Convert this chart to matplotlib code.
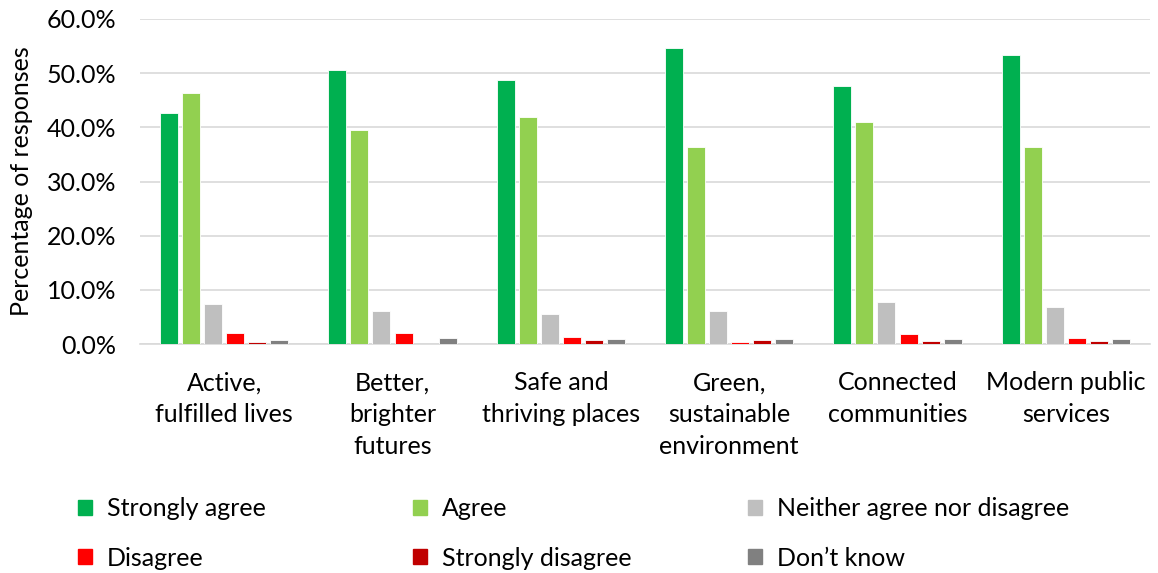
import matplotlib
matplotlib.use("Agg")
from matplotlib import pyplot as plt
from matplotlib.patches import Patch
import numpy as np

plt.rcParams['font.family'] = ['Lato', 'DejaVu Sans']

categories = ["Active,\nfulfilled lives", "Better,\nbrighter\nfutures", "Safe and\nthriving places",
              "Green,\nsustainable\nenvironment", "Connected\ncommunities", "Modern public\nservices"]
series = ["Strongly agree", "Agree", "Neither agree nor disagree", "Disagree", "Strongly disagree", "Don\u2019t know"]
colors = ["#00B050", "#92D050", "#BFBFBF", "#FF0000", "#C00000", "#808080"]

strongly_agree = [42.6, 50.6, 48.7, 54.7, 47.6, 53.4]
agree = [46.3, 39.5, 41.9, 36.4, 41.0, 36.4]
neither = [7.3, 6.1, 5.6, 6.1, 7.7, 6.8]
disagree = [2.0, 2.0, 1.3, 0.3, 1.8, 1.1]
strongly_disagree = [0.3, 0.0, 0.8, 0.8, 0.6, 0.6]
dont_know = [0.8, 1.2, 1.0, 1.0, 1.0, 1.0]
values = [strongly_agree, agree, neither, disagree, strongly_disagree, dont_know]

fs = 18

fig = plt.figure(figsize=(11.58, 5.73), dpi=100)
ax = fig.add_axes([140 / 1158, 1 - 344 / 573, 1010 / 1158, 325 / 573])

x = np.arange(len(categories))
pitch = 0.131
width = 0.107
for i, (vals, c) in enumerate(zip(values, colors)):
    ax.bar(x + (i - 2.5) * pitch, vals, width, color=c, edgecolor="white", linewidth=0.6, zorder=3)

ax.set_xlim(-0.5, len(categories) - 0.5)
ax.set_ylim(0, 60)
ax.set_yticks(np.arange(0, 61, 10))
ax.set_yticklabels([f"{v:.1f}%" for v in range(0, 61, 10)], fontsize=fs)
ax.set_xticks(x)
ax.set_xticklabels(categories, fontsize=fs, linespacing=1.47)
ax.tick_params(length=0)
ax.tick_params(axis="y", pad=17)
ax.tick_params(axis="x", pad=19.5)
ax.grid(axis="y", color="#D9D9D9", linewidth=1.2, zorder=0)
for s in ["top", "right", "left"]:
    ax.spines[s].set_visible(False)
ax.spines["bottom"].set_color("#D9D9D9")
ax.spines["bottom"].set_linewidth(1.2)
ax.set_ylabel("Percentage of responses", fontsize=fs, labelpad=10)

# legend: three columns placed by hand, two rows
col_x = [78, 413, 748]
for k in range(3):
    hs = [Patch(color=colors[k]), Patch(color=colors[k + 3])]
    fig.legend(hs, [series[k], series[k + 3]], loc="upper left",
               bbox_to_anchor=(col_x[k] / 1158, 1 - 497 / 573), frameon=False,
               fontsize=fs, handlelength=0.55, handleheight=0.55, handletextpad=0.6,
               labelspacing=1.07, borderpad=0, borderaxespad=0)

fig.savefig("out.png", dpi=100)
